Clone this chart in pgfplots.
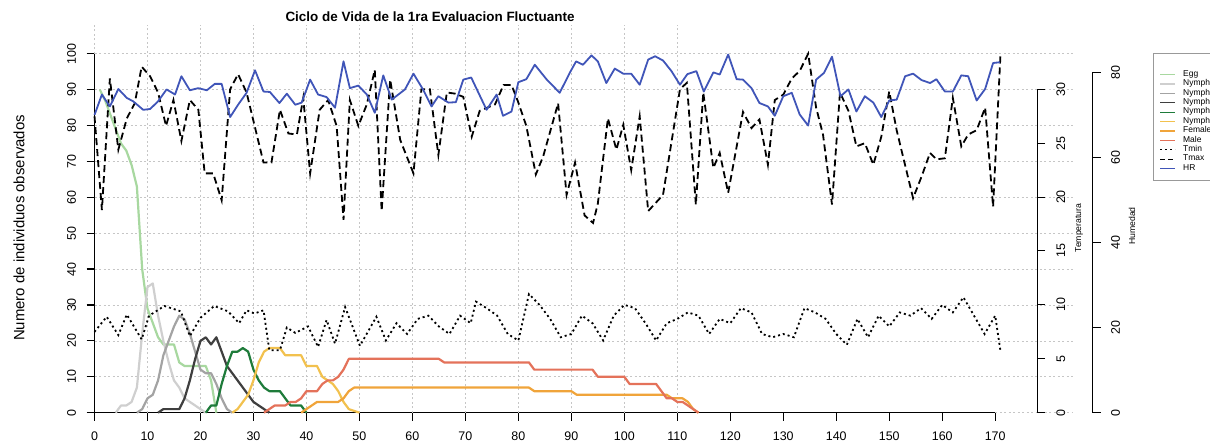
\documentclass[border=0pt]{standalone}
\usepackage{fontspec}
\setmainfont{Liberation Sans}
\usepackage{pgfplots}
\pgfplotsset{compat=1.18}

\definecolor{cegg}{HTML}{A8D8A0}
\definecolor{cnI}{HTML}{CFCFCF}
\definecolor{cnII}{HTML}{A3A3A3}
\definecolor{cnIII}{HTML}{3F3F3F}
\definecolor{cnIV}{HTML}{1E7B3A}
\definecolor{cnV}{HTML}{F2C14E}
\definecolor{cfem}{HTML}{F0A43A}
\definecolor{cmale}{HTML}{E4725A}
\definecolor{chr}{HTML}{4055B8}

\pgfplotsset{
  rplot/.style={scale only axis, anchor=south west, at={(94.5bp,31.3bp)},
    width=900.7bp, height=359bp, xmin=0, xmax=170, clip=false},
  tickfont/.style={ticklabel style={font=\fontsize{12.5}{14}\selectfont},
    /pgf/number format/assume math mode=true},
}
\tikzset{
  cnt/.style={line width=2.2bp, line join=round},
  tmin/.style={black, line width=1.8bp, dash pattern=on 2bp off 3bp},
  tmax/.style={black, line width=1.8bp, dash pattern=on 7bp off 4bp},
  hr/.style={chr, line width=1.8bp, line join=round},
  gridl/.style={gray!45, line width=0.6bp, dash pattern=on 2bp off 2.5bp},
}

\begin{document}
\begin{tikzpicture}
\useasboundingbox (0,0) rectangle (1210bp,444bp);

% conteos por estadio
\begin{axis}[rplot, ymin=0, ymax=100, tickfont,
  axis x line*=bottom, axis y line*=left,
  axis line style={line width=1.2bp, -},
  tick align=outside, major tick length=8bp,
  every tick/.style={black, line width=1.2bp},
  xtick={0,10,...,170}, ytick={0,10,...,100},
  yticklabel style={rotate=90, anchor=south},
  xticklabel shift=8bp, yticklabel shift=7bp,
]
\draw[gridl] (axis cs:0,100) -- (axis cs:0,108);
\pgfplotsinvokeforeach{10,20,...,110}{\draw[gridl] (axis cs:#1,0) -- (axis cs:#1,108);}
\draw[gridl] (axis cs:170,0) -- (axis cs:184.6,0);
\pgfplotsinvokeforeach{10,20,...,100}{\draw[gridl] (axis cs:0,#1) -- (axis cs:184.6,#1);}
\addplot[cnt, cegg] coordinates {(1,90) (2,87) (3,83) (4,79) (5,75) (6,73) (7,69) (8,63) (9,40) (10,29) (11,25) (12,21) (13,19) (14,19) (15,19) (16,14) (17,13) (18,13) (19,13) (20,13) (21,13) (22,9) (23,0)};
\addplot[cnt, cnI] coordinates {(4,0) (5,2) (6,2) (7,3) (8,7) (9,22) (10,35) (11,36) (12,27) (13,20) (14,14) (15,9) (16,7) (17,4) (18,3) (19,2) (20,1) (21,0)};
\addplot[cnt, cnII] coordinates {(8,0) (9,1) (10,4) (11,5) (12,9) (13,16) (14,20) (15,24) (16,27) (17,26) (18,22) (19,17) (20,12) (21,11) (22,11) (23,8) (24,4) (25,1) (26,0)};
\addplot[cnt, cnIII] coordinates {(12,0) (13,1) (14,1) (15,1) (16,1) (17,4) (18,9) (19,15) (20,20) (21,21) (22,19) (23,21) (24,17) (25,13) (26,11) (27,9) (28,7) (29,5) (30,3) (31,2) (32,1) (33,0)};
\addplot[cnt, cnIV] coordinates {(21,0) (22,2) (23,2) (24,8) (25,13) (26,17) (27,17) (28,18) (29,17) (30,12) (31,9) (32,7) (33,6) (34,6) (35,6) (36,4) (37,2) (38,2) (39,2) (40,0)};
\addplot[cnt, cnV] coordinates {(26,0) (27,1) (28,3) (29,5) (30,9) (31,14) (32,17) (33,18) (34,18) (35,18) (36,16) (37,16) (38,16) (39,16) (40,13) (41,13) (42,13) (43,10) (44,9) (45,8) (46,6) (47,3) (48,1) (49,0.5) (50,0)};
\addplot[cnt, cfem] coordinates {(39,0) (40,1) (41,2) (42,3) (46,3) (47,4) (48,6) (49,7) (82,7) (83,6) (90,6) (91,5) (108,5) (109,4) (111,4) (112,3) (113,1) (114,0)};
\addplot[cnt, cmale] coordinates {(32,0) (33,1) (34,2) (36,2) (37,3) (38,3) (39,4) (40,6) (42,6) (43,8) (44,9) (45,9) (46,10) (47,12) (48,15) (65,15) (66,14) (82,14) (83,12) (94,12) (95,10) (100,10) (101,8) (106,8) (107,6) (108,4) (109,4) (110,3) (111,3) (112,2) (113,1) (114,0)};
\end{axis}

% temperaturas
\begin{axis}[rplot, ymin=0, ymax=33.3, hide axis]
\addplot[tmin] coordinates {(0,7.5) (2.3,8.9) (4.5,7.2) (6.1,9.1) (8.9,6.8) (10.3,9.0) (13.2,9.9) (16.3,9.4) (18,7.1) (20,8.8) (22.6,9.9) (25.2,9.4) (27.3,8.3) (28.7,9.5) (30.2,9.2) (31.9,9.5) (33,5.8) (35,5.8) (36.3,7.9) (37.9,7.4) (40.3,8.0) (42.2,6.1) (43.8,8.6) (45.4,6.4) (47.3,9.8) (50.1,6.2) (53.2,8.9) (55,6.7) (57,8.3) (59,7.3) (61,8.7) (63,9.0) (65,8.0) (67,7.3) (69,9.0) (71,8.3) (72,10.3) (74,9.7) (76,9.0) (78,7.3) (80,6.7) (82,11.0) (84,10.0) (86,8.7) (88,7.0) (90,7.3) (92,9.0) (94,8.3) (96,6.7) (98,9.0) (100,10) (102,9.7) (104,8.3) (106,6.7) (108,8.3) (110,8.7) (112,9.3) (114,9.0) (116,7.3) (118,8.7) (120,8.3) (122,9.7) (124,9.3) (126,7.3) (128,7.0) (130,7.3) (132,7.0) (134,9.7) (136,9.3) (138,8.7) (140,7.3) (142,6.3) (144,8.7) (146,7.0) (148,9.0) (150,8.0) (152,9.3) (154,9.0) (156,9.7) (158,8.7) (160,10) (162,9.3) (164,10.7) (166,9.0) (168,7.3) (170,9.0) (171,5.7)};
\addplot[tmax] coordinates {(0,27.5) (1.4,18.8) (2.9,31.0) (4.5,24.4) (6.1,27.3) (7.6,28.7) (8.9,32.1) (10.5,31.2) (12,29.7) (13.5,26.6) (14.9,29.0) (16.4,25.2) (18,29.0) (19.6,28.1) (20.8,22.2) (22.4,22.2) (24,19.7) (25.6,30.0) (27.1,31.4) (28.7,29.7) (31.9,23.2) (33.4,23.2) (35,28.1) (36.6,25.9) (38.2,25.8) (39.4,29.2) (40.7,22.2) (42.5,28.1) (44.1,29.0) (45.7,26.6) (47,17.9) (48.2,29.0) (49.8,26.6) (51.4,28.6) (52.9,31.8) (54.2,18.7) (55.8,30.9) (57.7,25.3) (60.2,22.2) (61.7,30.0) (63.3,30.0) (64.9,23.9) (66.5,29.7) (68,29.6) (69.6,29.3) (71.2,25.6) (72.7,28.0) (75.6,28.6) (77.2,30.4) (78.7,30.4) (79.9,28.9) (81.5,26.6) (83.3,22.1) (84.7,23.8) (87.5,28.7) (89.1,20.2) (90.7,23.2) (92.5,18.3) (94.1,17.6) (95,19.4) (96.9,27.3) (98.5,24.4) (99.8,26.7) (101.3,22.5) (102.9,27.5) (104.5,18.7) (107.3,20.2) (110.5,30.0) (111.8,30.6) (113.5,19.3) (114.9,29.7) (116.8,22.7) (118,24.1) (119.6,20.4) (122.4,27.9) (124,26.4) (125.5,27.2) (127.1,23.0) (128.4,29.0) (130,29.5) (131.6,31.0) (133.1,31.7) (134.7,33.3) (136.2,28.3) (137.5,25.8) (139.2,19.3) (140.7,29.7) (142.3,28.0) (143.8,24.7) (145.4,25.0) (147,23.0) (148.5,25.6) (150,29.8) (151.4,26.2) (154.5,19.9) (156.1,21.9) (157.7,24.1) (158.9,23.5) (160.5,23.6) (162,29.2) (163.6,24.7) (164.9,25.8) (166.5,26.2) (168.1,28.3) (169.6,19.1) (171,33.3)};
\end{axis}

% humedad relativa
\begin{axis}[rplot, ymin=0, ymax=84.4, hide axis,
  legend cell align=left,
  legend image code/.code={\draw[#1] (0bp,0bp) -- (15bp,0bp);},
  legend style={at={(1.1755,1.0011)}, anchor=north west, draw=gray!80, line width=0.6bp,
    fill=white, inner xsep=5.9bp, inner ysep=7bp, row sep=0bp,
    font=\fontsize{8.5}{9}\selectfont,
    nodes={inner sep=0.8bp, text height=5.6bp, text depth=2.2bp},
    /tikz/every odd column/.append style={column sep=6.7bp}},
]
\addplot[hr, forget plot] coordinates {(0,70.0) (1.4,74.8) (2.9,72.0) (4.5,76.1) (6.1,74.0) (7.3,73.2) (9.2,71.2) (10.5,71.4) (12,73.2) (13.6,76.0) (15.2,74.8) (16.4,79.1) (18,75.8) (19.6,76.3) (21.2,75.8) (22.7,77.3) (24,77.3) (25.6,69.5) (27.1,72.4) (28.7,75.2) (30.3,80.5) (31.9,75.5) (33.1,75.4) (34.9,72.8) (36.3,75.0) (37.9,72.4) (39.1,72.9) (40.7,78.3) (42.2,74.8) (43.8,74.2) (45.4,71.7) (47,82.6) (48.2,76.3) (49.8,76.9) (51.4,74.8) (52.9,70.5) (54.5,79.3) (56.1,73.6) (58.6,76.0) (60.2,79.7) (62,76.0) (63.6,72.0) (64.9,74.4) (66.8,72.9) (68.2,73.0) (69.6,78.3) (71.1,78.8) (74,71.2) (75.9,74.8) (77.1,69.8) (78.7,70.8) (80,77.7) (81.5,78.4) (83.1,81.8) (85.3,78.4) (87.8,75.2) (89.7,79.9) (90.9,82.6) (92.2,81.8) (93.8,84.0) (95,82.6) (96.6,77.5) (98.2,80.9) (99.8,79.7) (101.3,79.7) (102.9,77.1) (104.5,83.0) (105.8,83.8) (107.3,82.8) (108.9,80.3) (110.5,77.1) (111.9,79.6) (113.6,80.3) (115,75.5) (116.8,80.0) (118,79.5) (119.6,84.2) (121.2,78.4) (122.4,78.3) (124,76.3) (125.5,72.8) (127.1,72.0) (128.4,69.8) (130,74.4) (131.6,75.2) (133.1,70.1) (134.7,67.5) (136.2,78.3) (137.7,79.9) (139.2,83.7) (140.8,74.4) (142.3,76.0) (143.8,70.8) (145.4,74.4) (147,72.9) (148.5,69.5) (150,73.4) (151.4,73.6) (153,79.1) (154.5,79.7) (156.1,78.2) (157.7,77.5) (158.9,78.4) (160.5,75.5) (162,75.5) (163.6,79.3) (164.9,79.1) (166.5,73.4) (168.1,76.1) (169.6,82.2) (170.9,82.4)};
\addlegendimage{empty legend}\addlegendentry{}
\addlegendimage{cnt, cegg, line width=1.2bp}\addlegendentry{Egg}
\addlegendimage{cnt, cnI, line width=1.2bp}\addlegendentry{Nymph I}
\addlegendimage{cnt, cnII, line width=1.2bp}\addlegendentry{Nymph II}
\addlegendimage{cnt, cnIII, line width=1.2bp}\addlegendentry{Nymph III}
\addlegendimage{cnt, cnIV, line width=1.2bp}\addlegendentry{Nymph IV}
\addlegendimage{cnt, cnV, line width=1.2bp}\addlegendentry{Nymph V}
\addlegendimage{cnt, cfem, line width=1.2bp}\addlegendentry{Female}
\addlegendimage{cnt, cmale, line width=1.2bp}\addlegendentry{Male}
\addlegendimage{tmin, line width=1.2bp}\addlegendentry{Tmin}
\addlegendimage{tmax, line width=1.2bp, dash pattern=on 5bp off 3bp}\addlegendentry{Tmax}
\addlegendimage{hr, line width=1.2bp}\addlegendentry{HR}
\end{axis}

% eje de temperatura
\begin{axis}[scale only axis, anchor=south east, at={(1037bp,31.3bp)},
  width=20bp, height=323.5bp, ymin=0, ymax=30, xmin=0, xmax=1,
  hide x axis, axis y line*=right, tickfont,
  axis line style={line width=1bp, -},
  tick align=outside, major tick length=8bp,
  every tick/.style={black, line width=1bp},
  ytick={0,5,...,30},
  yticklabel style={rotate=90, anchor=north},
  yticklabel shift=8bp,
]
\end{axis}

% eje de humedad
\begin{axis}[scale only axis, anchor=south east, at={(1092.7bp,31.3bp)},
  width=20bp, height=340.4bp, ymin=0, ymax=80, xmin=0, xmax=1,
  hide x axis, axis y line*=right, tickfont,
  axis line style={line width=1bp, -},
  tick align=outside, major tick length=8bp,
  every tick/.style={black, line width=1bp},
  ytick={0,20,...,80},
  yticklabel style={rotate=90, anchor=north},
  yticklabel shift=7bp,
]
\end{axis}

\node[font=\bfseries\fontsize{13.5}{15}\selectfont] at (430bp,427bp) {Ciclo de Vida de la 1ra Evaluacion Fluctuante};
\node[rotate=90, font=\fontsize{15}{15}\selectfont] at (19bp,216bp) {Numero de individuos observados};
\node[rotate=90, font=\fontsize{8.7}{9}\selectfont] at (1079bp,216bp) {Temperatura};
\node[rotate=90, font=\fontsize{8.7}{9}\selectfont] at (1132bp,218bp) {Humedad};
\end{tikzpicture}
\end{document}
